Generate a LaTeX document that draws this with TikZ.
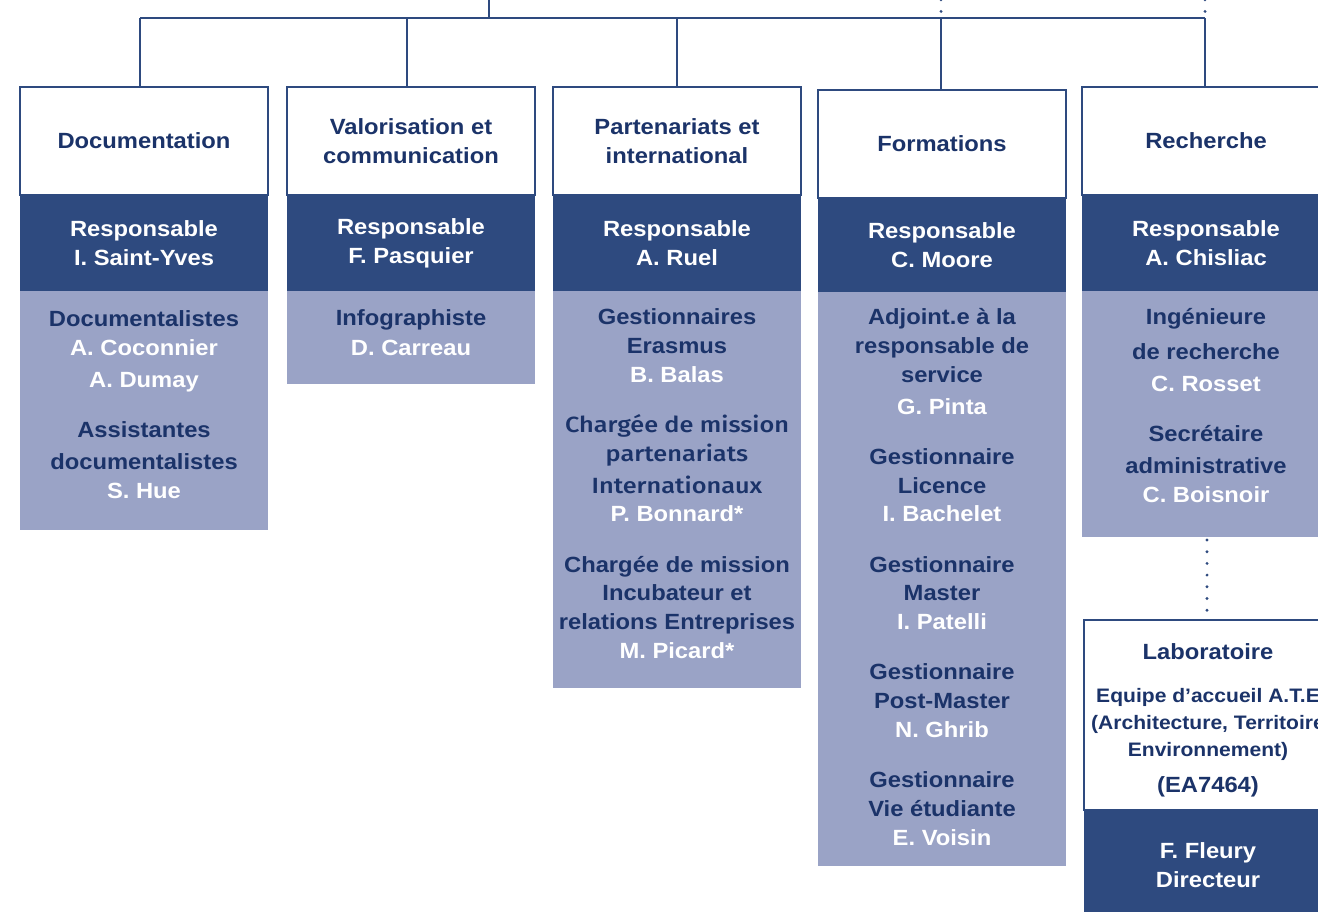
\documentclass[tikz,border=0pt]{standalone}
\usepackage{fontspec}
\setmainfont{Liberation Sans}[FakeStretch=1.08]
\newfontfamily\altfont{Fira Sans}[UprightFont=* Medium, BoldFont=* Medium, FakeStretch=1.15]
\definecolor{navy}{HTML}{1B3369}
\definecolor{band}{HTML}{2E4A7F}
\definecolor{light}{HTML}{9AA3C6}
\newcommand\nm[1]{\textcolor{white}{#1}}
\newcommand\alt[1]{{\altfont #1}}
\begin{document}
\begin{tikzpicture}[x=1pt,y=-1pt,
  font=\fontsize{22}{29}\selectfont\bfseries,
  hdr/.style={draw=band, line width=2.5pt, fill=white, anchor=north west,
    minimum width=248pt, minimum height=108pt, align=center, text=navy, inner sep=0pt, outer sep=0pt},
  resp/.style={fill=band, anchor=north west, minimum width=248pt, minimum height=96pt,
    align=center, text=white, inner sep=0pt, outer sep=0pt},
  staff/.style={fill=light, anchor=north west, minimum width=248pt, inner sep=0pt, outer sep=0pt},
  txt/.style={anchor=base, align=center, text=navy, inner sep=0pt},
  small/.style={font=\fontsize{19.5}{27}\selectfont\bfseries},
  conn/.style={draw=band, line width=2.5pt},
  dots/.style={draw=band, line width=3.2pt, line cap=round, dash pattern=on 0pt off 11.7pt}]
\useasboundingbox (0,0) rectangle (1318,912);
\clip (0,0) rectangle (1318,912);

% column 1
\node[staff, minimum height=239pt] (s1) at (20,291) {};
\node[resp] (r1) at (20,195) {Responsable\\I. Saint-Yves};
\node[hdr] (h1) at (20,87) {Documentation};
\node[txt] (t1) at (144,498) {Documentalistes\\\nm{A. Coconnier}\\[3pt]\nm{A. Dumay}\\[21pt]Assistantes\\[3pt]documentalistes\\\nm{S. Hue}};

% column 2
\node[staff, minimum height=93pt] (s2) at (287,291) {};
\node[resp] (r2) at (287,195) {Responsable\\F. Pasquier};
\node[hdr] (h2) at (287,87) {Valorisation et\\communication};
\node[txt] (t2) at (411,355) {Infographiste\\\nm{D. Carreau}};

% column 3
\node[staff, minimum height=397pt] (s3) at (553,291) {};
\node[resp] (r3) at (553,195) {Responsable\\A. Ruel};
\node[hdr] (h3) at (553,87) {Partenariats et\\international};
\node[txt] (t3) at (677,658) {Gestionnaires\\Erasmus\\\nm{B. Balas}\\[21pt]\alt{Chargée de mission}\\\alt{partenariats}\\[3pt]\alt{Internationaux}\\[-1pt]\nm{P. Bonnard*}\\[22pt]Chargée de mission\\[-1pt]Incubateur et\\relations Entreprises\\\nm{M. Picard*}};

% column 4
\node[staff, minimum height=574pt] (s4) at (818,292) {};
\node[resp, minimum height=94pt] (r4) at (818,198) {Responsable\\C. Moore};
\node[hdr] (h4) at (818,90) {Formations};
\node[txt] (t4) at (942,845) {Adjoint.e à la\\responsable de\\service\\[3pt]\nm{G. Pinta}\\[21pt]Gestionnaire\\Licence\\[-1pt]\nm{I. Bachelet}\\[22pt]Gestionnaire\\[-1pt]Master\\\nm{I. Patelli}\\[21pt]Gestionnaire\\Post-Master\\\nm{N. Ghrib}\\[21pt]Gestionnaire\\Vie étudiante\\\nm{E. Voisin}};

% column 5
\node[staff, minimum height=246pt] (s5) at (1082,291) {};
\node[resp] (r5) at (1082,195) {Responsable\\A. Chisliac};
\node[hdr] (h5) at (1082,87) {Recherche};
\node[txt] (t5) at (1206,502) {Ingénieure\\[6pt]de recherche\\[3pt]\nm{C. Rosset}\\[21pt]Secrétaire\\[3pt]administrative\\\nm{C. Boisnoir}};

% laboratory
\node[resp, minimum height=120pt] (lr) at (1084,810) {};
\node[hdr, minimum height=190pt] (lab) at (1084,620) {};
\node[txt] (lt) at (1208,659) {Laboratoire};
\node[txt, small] (ld) at (1208,756) {Equipe d’accueil A.T.E\\(Architecture, Territoire\\Environnement)};
\node[txt] (lc) at (1208,792) {(EA7464)};
\node[txt, text=white] (ln) at (1208,887) {F. Fleury\\Directeur};

% connectors
\coordinate (root) at (489,0);
\coordinate (bus) at (489,18);
\coordinate (j1) at (140,18);
\coordinate (j2) at (407,18);
\coordinate (j3) at (677,18);
\coordinate (j4) at (941,18);
\coordinate (j5) at (1205,18);
\coordinate (d4) at (941,-0.3);
\coordinate (d4e) at (941,12);
\coordinate (d5) at (1205,-0.3);
\coordinate (d5e) at (1205,12);
\coordinate (lt1) at (1207,540);
\coordinate (lt2) at (1207,611);
\draw[conn] (root) -- (bus);
\draw[conn] (j1) -- (j5);
\draw[conn] (j1) -- (j1 |- h1.north);
\draw[conn] (j2) -- (j2 |- h2.north);
\draw[conn] (j3) -- (j3 |- h3.north);
\draw[conn] (j4) -- (j4 |- h4.north);
\draw[conn] (j5) -- (j5 |- h5.north);
\draw[dots] (d4) -- (d4e);
\draw[dots] (d5) -- (d5e);
\draw[dots] (lt1) -- (lt2);
\end{tikzpicture}
\end{document}
